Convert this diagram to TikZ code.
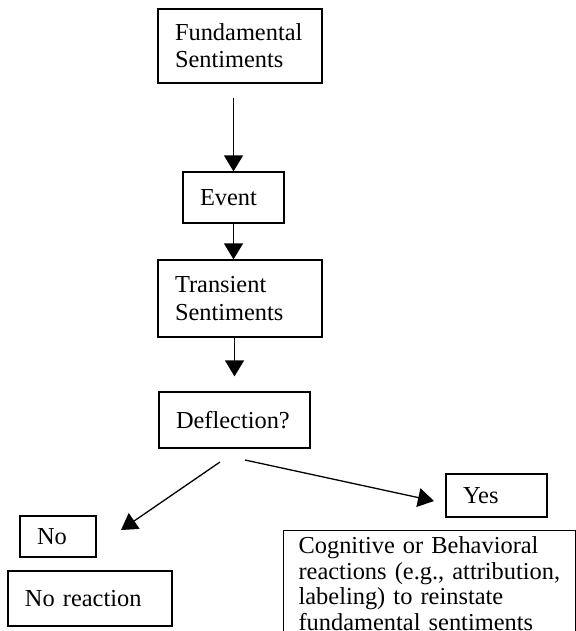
\documentclass[tikz,border=0pt]{standalone}
\usepackage{fontspec}
\setmainfont{Liberation Serif}
\usetikzlibrary{arrows.meta}
\tikzset{
    flow box/.style={
        draw,
        line width=0.6pt,
        align=left,
        inner xsep=8.5pt,
        inner ysep=0pt,
        font=\fontsize{12.2}{13.6}\selectfont
    },
    flow arrow/.style={
        line width=0.65pt,
        -{Triangle[length=8pt,width=9.5pt]}
    }
}
\begin{document}
\begin{tikzpicture}[x=0.5pt, y=-0.5pt]
                \useasboundingbox (0,0) rectangle (576,631);
                \clip (0,0) rectangle (576,631);
                \node[flow box, text width=65pt, minimum height=37pt] (fundamental) at (240,46) {Fundamental\\Sentiments};
                \node[flow box, text width=33.5pt, minimum height=25.5pt] (event) at (233.5,197.5) {Event};
                \node[flow box, text width=65pt, minimum height=38.5pt] (transient) at (240,298.5) {Transient\\Sentiments};
                \node[flow box, text width=58.5pt, minimum height=28pt] (deflection) at (234.5,420) {Deflection?};
                \node[flow box, text width=33.5pt, minimum height=21.5pt] (yes) at (496.5,495.5) {Yes};
                \node[flow box, text width=21pt, minimum height=20.5pt] (no) at (58,536.5) {No};
                \node[flow box, text width=65pt, minimum height=27.5pt] (noreaction) at (90,598.5) {No reaction};
                \node[flow box, text width=131pt, inner xsep=7.5pt, inner ysep=3pt,
                    font=\fontsize{12.2}{12.75}\selectfont, anchor=north west] (reactions) at (283,530)
                    {Cognitive or Behavioral\\reactions (e.g., attribution,\\labeling) to reinstate\\fundamental sentiments};
                \coordinate (split no) at (220,462);
                \coordinate (head no) at (121,530);
                \coordinate (split yes) at (245,460);
                \coordinate (head yes) at (434,501);
                \draw[flow arrow, shorten <=7pt] (fundamental.south -| event.north) -- (event.north);
                \draw[flow arrow] (event.south) -- (event.south |- transient.north);
                \draw[flow arrow, shorten >=7.5pt] (transient.south -| deflection.north) -- (deflection.north);
                \draw[flow arrow] (split no) -- (head no);
                \draw[flow arrow] (split yes) -- (head yes);
            \end{tikzpicture}
\end{document}
